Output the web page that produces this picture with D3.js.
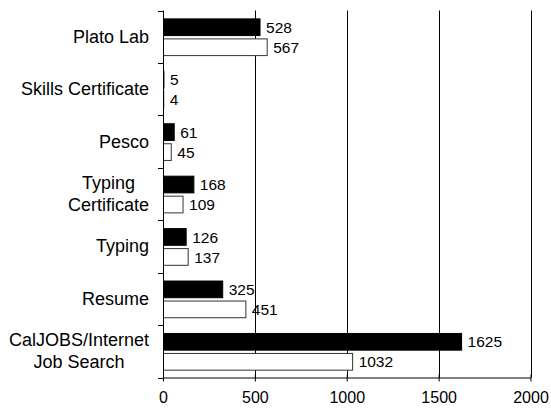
<!DOCTYPE html>
<html>
<head>
<meta charset="utf-8">
<script src="https://cdn.jsdelivr.net/npm/d3@7"></script>
<style>
  html, body { margin: 0; padding: 0; background: #ffffff; }
  svg { display: block; font-family: "Liberation Sans", Arial, sans-serif; }
</style>
</head>
<body>
<svg id="chart" width="551" height="411"></svg>
<script>
// ---- data ----
const categories = ["Plato Lab", "Skills Certificate", "Pesco", "Typing Certificate", "Typing", "Resume", "CalJOBS/Internet Job Search"];
const categoryLines = [["Plato Lab"], ["Skills Certificate"], ["Pesco"], ["Typing", "Certificate"], ["Typing"], ["Resume"], ["CalJOBS/Internet", "Job Search"]];
const seriesNames = ["Series 1", "Series 2"];
const series1Values = [528, 5, 61, 168, 126, 325, 1625];
const series2Values = [567, 4, 45, 109, 137, 451, 1032];
const xTickValues = [0, 500, 1000, 1500, 2000];
const seriesColors = ["#000000", "#ffffff"];

// ---- layout ----
const plotLeft = 163, plotRight = 530.5, plotTop = 10.5, plotBottom = 377.5;
const svg = d3.select("#chart");

const x = d3.scaleLinear().domain([0, 2000]).range([plotLeft, plotRight]);
const y0 = d3.scaleBand().domain(categories).range([plotTop, plotBottom]).padding(0);
const bw = y0.bandwidth();
const y1 = d3.scaleBand().domain(seriesNames).range([bw * 0.16, bw * 0.86]).paddingInner(0.165).paddingOuter(0);

const rows = categories.map((c, i) => ({ cat: c, lines: categoryLines[i], vals: [series1Values[i], series2Values[i]] }));

// gridlines
svg.append("g").selectAll("line").data(xTickValues.filter(v => v > 0)).join("line")
  .attr("x1", d => Math.round(x(d)) + 0.5).attr("x2", d => Math.round(x(d)) + 0.5)
  .attr("y1", plotTop).attr("y2", plotBottom)
  .attr("stroke", "#000").attr("stroke-width", 1);

// bars
const groups = svg.append("g").selectAll("g").data(rows).join("g")
  .attr("transform", d => `translate(0,${y0(d.cat)})`);

groups.selectAll("rect").data(d => d.vals.map((v, j) => ({ v, s: seriesNames[j], j }))).join("rect")
  .attr("x", x(0) + 0.5)
  .attr("y", d => y1(d.s))
  .attr("width", d => Math.max(0, x(d.v) - x(0) - 0.5))
  .attr("height", y1.bandwidth())
  .attr("fill", d => seriesColors[d.j])
  .attr("stroke", d => d.j === 0 ? "#000" : "#333")
  .attr("stroke-width", 1);

groups.selectAll("text").data(d => d.vals.map((v, j) => ({ v, s: seriesNames[j], j }))).join("text")
  .attr("x", d => x(d.v) + 6)
  .attr("y", d => y1(d.s) + y1.bandwidth() / 2)
  .attr("dy", "0.36em")
  .attr("font-size", 15.5)
  .attr("fill", "#000")
  .text(d => d.v);

// x axis
const xAxis = d3.axisBottom(x).tickValues(xTickValues).tickFormat(d3.format("d"))
  .tickSizeInner(4).tickSizeOuter(0).tickPadding(10);
const gx = svg.append("g").attr("transform", `translate(0,${plotBottom})`).call(xAxis);
gx.select(".domain").attr("stroke", "#000");
gx.selectAll(".tick line").attr("stroke", "#000").attr("y1", -3);
gx.selectAll(".tick text").attr("font-size", 16).attr("fill", "#000").attr("font-family", "Liberation Sans, Arial, sans-serif");

// y axis line and boundary ticks
svg.append("line").attr("x1", plotLeft + 0.5).attr("x2", plotLeft + 0.5).attr("y1", plotTop).attr("y2", plotBottom)
  .attr("stroke", "#000");
const boundaries = categories.map(c => y0(c)).concat([y0(categories[categories.length - 1]) + bw]);
svg.append("g").selectAll("line").data(boundaries).join("line")
  .attr("x1", plotLeft - 5).attr("x2", plotLeft + 0.5)
  .attr("y1", d => Math.round(d) + 0.5).attr("y2", d => Math.round(d) + 0.5)
  .attr("stroke", "#000");

// category labels
const labelRight = 149;
const lineH = 22;
const lab = svg.append("g").selectAll("text").data(rows).join("text")
  .attr("font-size", 18).attr("fill", "#000");
lab.each(function (d) {
  const t = d3.select(this);
  const cy = y0(d.cat) + bw / 2;
  const n = d.lines.length;
  const spans = d.lines.map((ln, k) => t.append("tspan").text(ln)
    .attr("y", cy + (k - (n - 1) / 2) * lineH).attr("dy", "0.33em"));
  const widths = spans.map(s => s.node().getComputedTextLength());
  const maxW = d3.max(widths);
  spans.forEach(s => s.attr("text-anchor", "middle").attr("x", labelRight - maxW / 2));
});
</script>
</body>
</html>
